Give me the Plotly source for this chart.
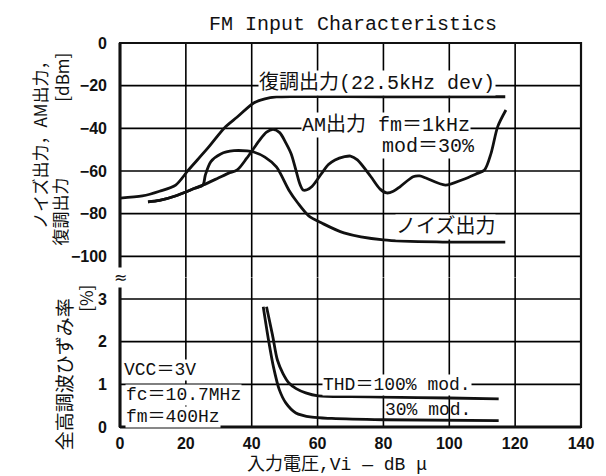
import plotly.graph_objects as go

# ---- axis ticks ----
x_ticks = [0, 20, 40, 60, 80, 100, 120, 140]
db_ticks = [0, -20, -40, -60, -80, -100]
thd_ticks = [0, 1, 2, 3]
DB_RANGE = [-110, 0]
THD_RANGE = [0, 3.5]

# ---- upper panel: output levels [dBm] vs input voltage [dBu] ----
demod_x = [0, 6.8, 12, 16.9, 20.8, 26.7, 31.7, 35.6, 40.6, 44, 47.5, 53, 80, 117]
demod_db = [-72.7, -71.7, -69.5, -66.6, -59.5, -49.2, -39.8, -34.7, -28.1, -26.2, -25.3, -25.1, -25.2, -25.2]

am_x = [8.5, 12, 16.8, 22.7, 25.2, 29.7, 33, 35.6, 38.5, 42.4, 44.5, 46.5, 48.5, 50.4, 52, 53.4,
        54.6, 55.6, 56.8, 58.3, 61.3, 63.3, 65.3, 68.2, 70, 72.1, 76.2, 79, 81, 83, 85.1, 89, 91,
        92.9, 98.8, 103.8, 108, 110.7, 112.7, 114.7, 117.2]
am_db = [-74.5, -73.8, -71.7, -68.1, -66.6, -63.4, -61, -59.5, -54, -45.5, -41.8, -40.5, -42, -46.9,
         -52, -59.5, -66, -68.9, -68.8, -67.3, -61, -57, -54.8, -53.3, -53, -54.8, -62.7, -68.5,
         -70.3, -69.5, -67.3, -62.7, -62.3, -63.3, -66.6, -64.2, -61.5, -59.5, -51.6, -39.2, -31.4]

noise_x = [8.5, 12, 16.8, 22.7, 25.2, 25.9, 27.6, 30.6, 34.6, 38.6, 40.6, 44, 47.5, 51.3, 54,
           57.3, 61.4, 68, 80, 98, 117]
noise_db = [-74.5, -73.8, -71.7, -68.1, -66.6, -62, -55.6, -52, -50.5, -50.6, -51.1, -53.5, -58.1,
            -69, -75, -81, -84.5, -89, -92.3, -93.3, -93.3]

# ---- lower panel: total harmonic distortion [%] ----
thd100_x = [44.5, 46.3, 47.8, 49.5, 51.3, 53.5, 56.4, 60.2, 70, 80, 100, 115]
thd100_y = [2.82, 2.16, 1.57, 1.25, 1.03, 0.9, 0.80, 0.73, 0.71, 0.70, 0.68, 0.66]

thd30_x = [43.5, 45.1, 46.6, 48.4, 50.4, 53.4, 58.3, 64.3, 80, 115]
thd30_y = [2.82, 2.04, 1.41, 0.87, 0.56, 0.33, 0.23, 0.20, 0.17, 0.15]

MONO = "Liberation Mono, Noto Sans CJK JP, monospace"
CJK = "Noto Sans CJK JP, sans-serif"
BLACK = "#111111"

fig = go.Figure()


def grid_paths(xs, ys, y_range):
    """Build vertical and horizontal grid segments separated by None gaps."""
    gx, gy = [], []
    for xv in xs:
        gx += [xv, xv, None]
        gy += [y_range[0], y_range[1], None]
    for yv in ys:
        gx += [x_ticks[0], x_ticks[-1], None]
        gy += [yv, yv, None]
    return gx, gy


grid_line = dict(color="#000000", width=1.6)
gx, gy = grid_paths(x_ticks[1:-1], db_ticks[1:], DB_RANGE)
fig.add_trace(go.Scatter(x=gx, y=gy, mode="lines", line=grid_line, yaxis="y",
                         hoverinfo="skip", connectgaps=False))
gx, gy = grid_paths(x_ticks[1:-1], thd_ticks[1:], THD_RANGE)
fig.add_trace(go.Scatter(x=gx, y=gy, mode="lines", line=grid_line, yaxis="y2",
                         hoverinfo="skip", connectgaps=False))

curve = dict(color=BLACK, width=2.8, shape="spline", smoothing=0.8)
fig.add_trace(go.Scatter(x=demod_x, y=demod_db, mode="lines", line=curve, yaxis="y"))
fig.add_trace(go.Scatter(x=am_x, y=am_db, mode="lines", line=curve, yaxis="y"))
fig.add_trace(go.Scatter(x=noise_x, y=noise_db, mode="lines", line=curve, yaxis="y"))
fig.add_trace(go.Scatter(x=thd100_x, y=thd100_y, mode="lines", line=curve, yaxis="y2"))
fig.add_trace(go.Scatter(x=thd30_x, y=thd30_y, mode="lines", line=curve, yaxis="y2"))

# lower panel holds 3.5 divisions of %, upper holds 5.5 divisions of 20 dB
low_frac = 3.5 / (3.5 + 5.5)

tickfont = dict(family="Liberation Sans, Arial, sans-serif", size=16, color=BLACK, weight="bold")

fig.update_layout(
    width=606, height=476,
    margin=dict(l=120, r=14, t=43, b=49),
    paper_bgcolor="white", plot_bgcolor="white",
    showlegend=False,
    xaxis=dict(range=[x_ticks[0], x_ticks[-1]], tickvals=x_ticks, showgrid=False, zeroline=False,
               showline=False, ticks="", ticklabelstandoff=5, tickfont=tickfont, anchor="y2"),
    yaxis=dict(domain=[low_frac, 1], range=DB_RANGE, tickvals=db_ticks, showgrid=False,
               zeroline=False, showline=False, ticks="", ticklabelstandoff=12,
               tickfont=tickfont, anchor="x"),
    yaxis2=dict(domain=[0, low_frac], range=THD_RANGE, tickvals=thd_ticks, showgrid=False,
                zeroline=False, showline=False, ticks="", ticklabelstandoff=12,
                tickfont=tickfont, anchor="x"),
)

# frame around the plotting area
fig.add_shape(type="rect", xref="paper", yref="paper", x0=0, x1=1, y0=0, y1=1,
              line=dict(color=BLACK, width=2.2))
fig.add_shape(type="line", xref="paper", yref="paper", x0=0, x1=0, y0=0, y1=1,
              line=dict(color=BLACK, width=3))
fig.add_shape(type="line", xref="paper", yref="paper", x0=0, x1=1, y0=0, y1=0,
              line=dict(color=BLACK, width=3))

label_font = dict(family=MONO, size=20, color=BLACK)
small_font = dict(family=MONO, size=18, color=BLACK)


def note(text, x, y, yref="y", xanchor="left", font=label_font, bg="white"):
    fig.add_annotation(text=text, x=x, y=y, xref="x", yref=yref, xanchor=xanchor,
                       yanchor="middle", showarrow=False, font=font, bgcolor=bg, borderpad=0)


# curve labels (upper panel)
note("復調出力(22.5kHz dev)", 78, -18.8, xanchor="center")
note("AM出力 fm＝1kHz", 54.9, -38.4)
note("mod＝30%", 79.2, -48.3)
note("ノイズ出力", 98.8, -86.3, xanchor="center")

# curve labels and conditions (lower panel)
note("THD＝100% mod.", 61.4, 0.98, yref="y2", font=small_font)
note("30% mod.", 80.1, 0.4, yref="y2", font=small_font, bg="rgba(0,0,0,0)")
note("VCC＝3V", 0.9, 1.34, yref="y2", font=small_font)
note("fc＝10.7MHz", 1.5, 0.76, yref="y2", font=small_font)
note("fm＝400Hz", 1.5, 0.24, yref="y2", font=small_font)

# title
fig.add_annotation(text="FM Input Characteristics", x=0.506, y=1.047, xref="paper", yref="paper",
                   xanchor="center", yanchor="middle", showarrow=False,
                   font=dict(family=MONO, size=20, color=BLACK))

# x-axis title
fig.add_annotation(text="入力電圧,Vi — dB μ", x=0.47, y=-0.097, xref="paper", yref="paper",
                   xanchor="center", yanchor="middle", showarrow=False,
                   font=dict(family=MONO, size=18, color=BLACK))

# y-axis titles (vertical)
for text, px, py, size in [("ノイズ出力，AM出力，", -0.176, 0.747, 17),
                           ("[dBm]", -0.127, 0.911, 17),
                           ("復調出力", -0.131, 0.56, 17),
                           ("全高調波ひずみ率", -0.123, 0.138, 19),
                           ("[%]", -0.074, 0.336, 17)]:
    fig.add_annotation(text=text, x=px, y=py, xref="paper", yref="paper", textangle=-90,
                       xanchor="center", yanchor="middle", showarrow=False,
                       font=dict(family=CJK, size=size, color=BLACK))

# axis break mark between the two scales
fig.add_annotation(text="≈", x=0, y=low_frac, xref="paper", yref="paper", showarrow=False,
                   xanchor="center", yanchor="middle",
                   font=dict(family="DejaVu Sans", size=16, color=BLACK), bgcolor="white",
                   borderpad=0)

fig.write_html("out.html")
